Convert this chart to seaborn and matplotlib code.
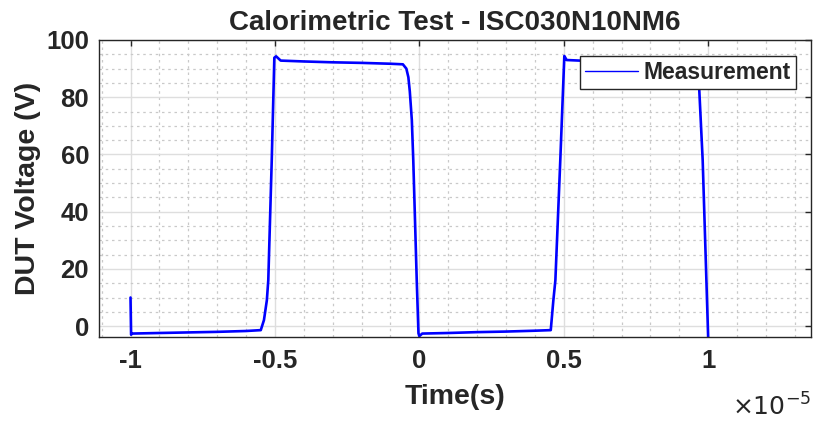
import numpy as np
import pandas as pd
import seaborn as sns
import matplotlib.pyplot as plt
from matplotlib.ticker import MultipleLocator, FuncFormatter
from matplotlib.lines import Line2D

# waveform: time in units of 1e-5 s, voltage in V
time_e5 = [-1.0, -0.998, -0.995, -0.9, -0.8, -0.7, -0.6, -0.549, -0.538, -0.528,
           -0.523, -0.511, -0.502, -0.496, -0.48, -0.4, -0.3, -0.2, -0.1, -0.057,
           -0.045, -0.038, -0.033, -0.026, -0.021, -0.009, -0.003, 0.0, 0.01, 0.1,
           0.2, 0.3, 0.4, 0.455, 0.464, 0.471, 0.488, 0.502, 0.51, 0.6, 0.7, 0.8,
           0.9, 0.955, 0.962, 0.969, 0.981, 1.0]
voltage = [10.0, -3.0, -2.6, -2.4, -2.2, -2.0, -1.7, -1.4, 2.1, 9.0,
           16.0, 58.0, 93.8, 94.3, 92.8, 92.5, 92.2, 92.0, 91.7, 91.5,
           90.0, 87.0, 82.0, 72.0, 58.0, 16.0, -2.5, -3.5, -2.6, -2.4,
           -2.1, -1.9, -1.6, -1.4, 9.0, 16.0, 58.0, 94.4, 93.0, 92.6, 92.3, 92.0,
           91.8, 91.5, 89.0, 83.0, 58.0, -4.0]

df = pd.DataFrame({"Time": np.array(time_e5) * 1e-5, "Voltage": voltage})

sns.set_style("white")
plt.rcParams["font.family"] = ["Liberation Sans", "DejaVu Sans"]

fig = plt.figure(figsize=(8.14, 4.21), dpi=100)
ax = fig.add_axes([0.1213, 0.2002, 0.8750, 0.7048])

sns.lineplot(data=df, x="Time", y="Voltage", ax=ax, color="#0000ff",
             linewidth=1.9, sort=False, estimator=None)

ax.set_xlim(-1.11e-5, 1.356e-5)
ax.set_ylim(-3.7, 100)

ax.xaxis.set_major_locator(MultipleLocator(0.5e-5))
ax.xaxis.set_minor_locator(MultipleLocator(0.1e-5))
ax.yaxis.set_major_locator(MultipleLocator(20))
ax.yaxis.set_minor_locator(MultipleLocator(5))
ax.xaxis.set_major_formatter(FuncFormatter(lambda v, p: f"{v / 1e-5:g}"))

ax.grid(which="major", color="#dedede", linewidth=1.0, linestyle="-")
ax.grid(which="minor", color="#c9c9c9", linewidth=0.9, linestyle=(0, (2, 3)))
ax.set_axisbelow(True)

ax.tick_params(which="major", direction="in", length=4, width=1, color="#262626",
               top=True, right=True, labelsize=18.5, labelcolor="#262626")
ax.tick_params(axis="x", which="major", pad=9)
ax.tick_params(axis="y", which="major", pad=7)
ax.tick_params(which="minor", length=0)
for lab in ax.get_xticklabels() + ax.get_yticklabels():
    lab.set_fontweight("bold")

for sp in ax.spines.values():
    sp.set_visible(True)
    sp.set_color("#262626")
    sp.set_linewidth(1.0)

ax.set_title("Calorimetric Test - ISC030N10NM6", fontsize=20, fontweight="bold",
             pad=7)
ax.set_xlabel("Time(s)", fontsize=20.5, fontweight="bold", color="#262626",
              labelpad=8)
ax.set_ylabel("DUT Voltage (V)", fontsize=20.5, fontweight="bold", color="#262626",
              labelpad=4)

handle = Line2D([], [], color="#0000ff", linewidth=1.0)
leg = ax.legend([handle], ["Measurement"], loc="upper right",
                bbox_to_anchor=(0.979, 0.947), borderaxespad=0, fancybox=False,
                framealpha=1, edgecolor="#262626", handlelength=2.3,
                prop={"size": 16.5, "weight": "bold"}, borderpad=0.22,
                handletextpad=0.25)
leg.get_frame().set_linewidth(1.0)

fig.text(0.996, 0.014, r"$\times10^{-5}$", ha="right", va="baseline",
         fontsize=18, color="#262626")

fig.savefig("out.png", dpi=100)
